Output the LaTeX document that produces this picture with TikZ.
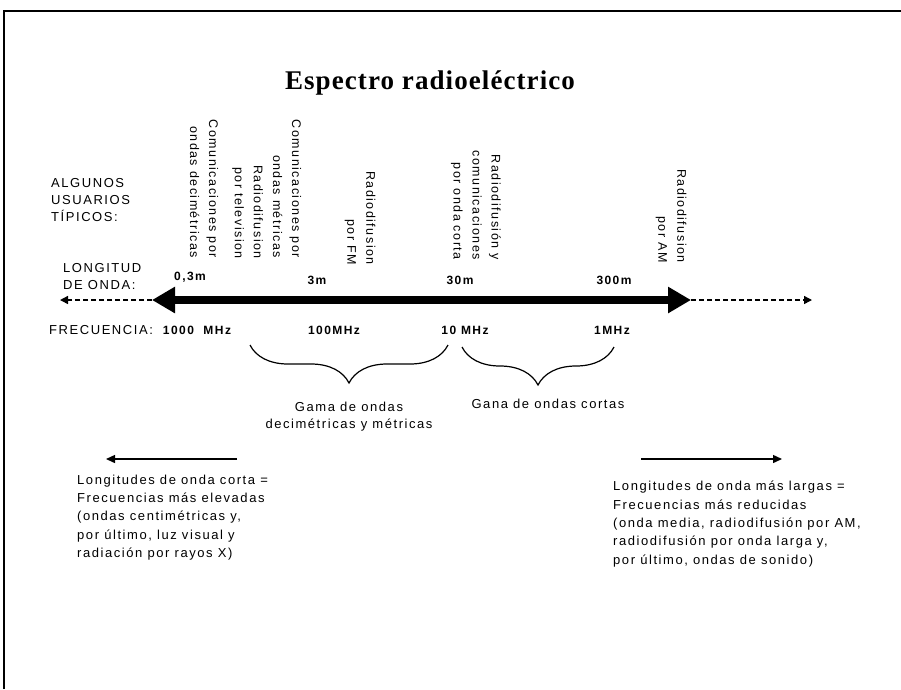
\documentclass[tikz,border=0pt]{standalone}
\usepackage{fontspec}
\setmainfont{Liberation Sans}
\newfontfamily\titlefont[LetterSpace=4]{Liberation Serif}
\newfontfamily\lblfont[LetterSpace=12]{Liberation Sans}
\usetikzlibrary{arrows.meta,decorations.pathreplacing}
\tikzset{
  lbl/.style={font=\lblfont\fontsize{13}{17}\selectfont, inner sep=0pt},
  num/.style={font=\lblfont\fontsize{12}{14}\selectfont\bfseries, inner sep=0pt},
  vert/.style={font=\lblfont\fontsize{12.5}{19}\selectfont, rotate=-90, align=right, anchor=east, inner sep=0pt},
  blk/.style={font=\lblfont\fontsize{13}{18.3}\selectfont, align=left, anchor=west, inner sep=0pt},
  brc/.style={decorate, decoration={brace, mirror, amplitude=38pt}, line width=1.2pt},
  bigarrow/.style={line width=8pt, {Triangle[length=23pt,width=25pt]}-{Triangle[length=23pt,width=25pt]}},
  dasharrow/.style={line width=1.4pt, dash pattern=on 5pt off 3pt, -{Triangle[length=8pt,width=8pt]}},
  thinarrow/.style={line width=1.4pt, -{Triangle[length=9pt,width=8pt]}},
  frame/.style={line width=2pt}
}
\begin{document}
\begin{tikzpicture}[x=1pt,y=-1pt]
\useasboundingbox (0,0) rectangle (901,689);
% frame
\coordinate (fb) at (4,689);
\coordinate (fc) at (4,11);
\coordinate (fr) at (901,11);
\draw[frame] (fb) -- (fc) -- (fr);

% title
\node[inner sep=0pt, font=\titlefont\bfseries\fontsize{27}{30}\selectfont] (title) at (430,83) {Espectro radioeléctrico};

% left labels
\node[lbl, align=left, anchor=west] (usuarios) at (51,200) {ALGUNOS\\USUARIOS\\TÍPICOS:};
\node[lbl, align=left, anchor=west] (longitud) at (63,277) {LONGITUD\\DE ONDA:};
\node[lbl, anchor=west] (frecuencia) at (49,330) {FRECUENCIA:};

% vertical user labels
\node[vert] (g1) at (204,258) {Comunicaciones por\\ondas decimétricas};
\node[vert] (g2) at (247.5,259) {Radiodifusion\\por television};
\node[vert] (g3) at (287,258) {Comunicaciones por\\ondas métricas};
\node[vert] (g4) at (360,265) {Radiodifusion\\por FM};
\node[vert] (g5) at (476,260) {Radiodifusión y\\comunicaciones\\por onda corta};
\node[vert] (g6) at (671,263) {Radiodifusion\\por AM};

% wavelength labels
\node[num] (w1) at (190,277) {0,3m};
\node[num] (w2) at (317,280) {3m};
\node[num] (w3) at (460,280) {30m};
\node[num] (w4) at (614,280) {300m};

% frequency labels
\node[num] (f1) at (197,330) {1000~~MHz};
\node[num] (f2) at (334,330) {100MHz};
\node[num] (f3) at (465,330) {10 MHz};
\node[num] (f4) at (612,330) {1MHz};

% main arrow
\coordinate (aL) at (152,300);
\coordinate (aR) at (691,300);
\coordinate (aLL) at (60,300);
\coordinate (aRR) at (812,300);
\draw[bigarrow] (aL) -- (aR);
\draw[dasharrow] (aL) -- (aLL);
\draw[dasharrow] (aR) -- (aRR);

% braces
\coordinate (b1a) at (250,345);
\coordinate (b1b) at (448,345);
\coordinate (b2a) at (462,347);
\coordinate (b2b) at (614,347);
\draw[brc] (b1a) -- (b1b);
\draw[brc] (b2a) -- (b2b);
\node[lbl, align=center] (gama1) at (349,417) {Gama de ondas\\decimétricas y métricas};
\node[lbl] (gama2) at (548,404) {Gana de ondas cortas};

% bottom arrows
\coordinate (la) at (237,459);
\coordinate (lb) at (106,459);
\coordinate (ra) at (641,459);
\coordinate (rb) at (782,459);
\draw[thinarrow] (la) -- (lb);
\draw[thinarrow] (ra) -- (rb);

\node[blk] (txtL) at (77,517.5) {Longitudes de onda corta =\\Frecuencias más elevadas\\(ondas centimétricas y,\\por último, luz visual y\\radiación por rayos X)};
\node[blk] (txtR) at (613,524) {Longitudes de onda más largas =\\Frecuencias más reducidas\\(onda media, radiodifusión por AM,\\radiodifusión por onda larga y,\\por último, ondas de sonido)};
\end{tikzpicture}
\end{document}
